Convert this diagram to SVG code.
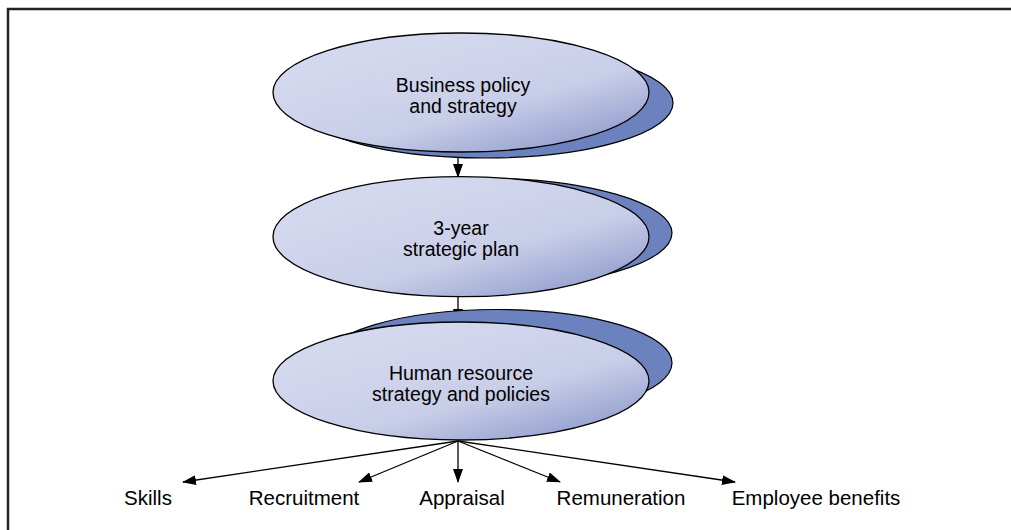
<svg xmlns="http://www.w3.org/2000/svg" width="1011" height="530" viewBox="0 0 1011 530">
<style>
.main{stroke:#000;stroke-width:1.3;fill:url(#g)}
.shadow{fill:#6b82be;stroke:#000;stroke-width:1.2}
.lbl{font-family:"Liberation Sans",Arial,sans-serif;font-size:20.5px;fill:#000;text-anchor:middle}
.in{font-size:19.5px}
.conn{stroke:#000;stroke-width:1.3;fill:none;marker-end:url(#ah)}
</style>
<defs>
<linearGradient id="g" x1="0.25" y1="0.2" x2="0.95" y2="1">
<stop offset="0" stop-color="#d4d8ee"/>
<stop offset="0.5" stop-color="#c9cee8"/>
<stop offset="1" stop-color="#8593c7"/>
</linearGradient>
<marker id="ah" markerWidth="14" markerHeight="10" refX="13" refY="5" orient="auto" markerUnits="userSpaceOnUse">
<path d="M0,0 L14,5 L0,10 Z" fill="#000"/>
</marker>
</defs>
<rect width="1011" height="530" fill="#fff"/>
<path d="M8,530 L8,9 L1011,9" fill="none" stroke="#222" stroke-width="2.5"/>
<g id="connectors">
<line class="conn" x1="458" y1="152" x2="458" y2="177"/>
<line class="conn" x1="458" y1="297" x2="458" y2="322"/>
<line class="conn" x1="458" y1="441" x2="183" y2="482"/>
<line class="conn" x1="458" y1="441" x2="359" y2="482"/>
<line class="conn" x1="458" y1="441" x2="458" y2="482"/>
<line class="conn" x1="458" y1="441" x2="560" y2="482"/>
<line class="conn" x1="458" y1="441" x2="735" y2="482"/>
</g>
<g id="node-business">
<ellipse class="shadow" cx="485" cy="103" rx="188" ry="55"/>
<ellipse class="main" cx="461" cy="92.5" rx="188" ry="59.5"/>
<text class="lbl in" x="463" y="92">Business policy</text>
<text class="lbl in" x="463" y="113">and strategy</text>
</g>
<g id="node-plan">
<ellipse class="shadow" cx="480" cy="233" rx="192" ry="55"/>
<ellipse class="main" cx="461" cy="236.7" rx="188" ry="60"/>
<text class="lbl in" x="461" y="235">3-year</text>
<text class="lbl in" x="461" y="256">strategic plan</text>
</g>
<g id="node-hr">
<ellipse class="shadow" cx="497" cy="363" rx="175" ry="53.5"/>
<ellipse class="main" cx="461" cy="381" rx="188" ry="59"/>
<text class="lbl in" x="461" y="380">Human resource</text>
<text class="lbl in" x="461" y="401">strategy and policies</text>
</g>
<g id="node-skills"><text class="lbl" x="148" y="505">Skills</text></g>
<g id="node-recruitment"><text class="lbl" x="304" y="505">Recruitment</text></g>
<g id="node-appraisal"><text class="lbl" x="462" y="505">Appraisal</text></g>
<g id="node-remuneration"><text class="lbl" x="621" y="505">Remuneration</text></g>
<g id="node-benefits"><text class="lbl" x="816" y="505">Employee benefits</text></g>
</svg>
